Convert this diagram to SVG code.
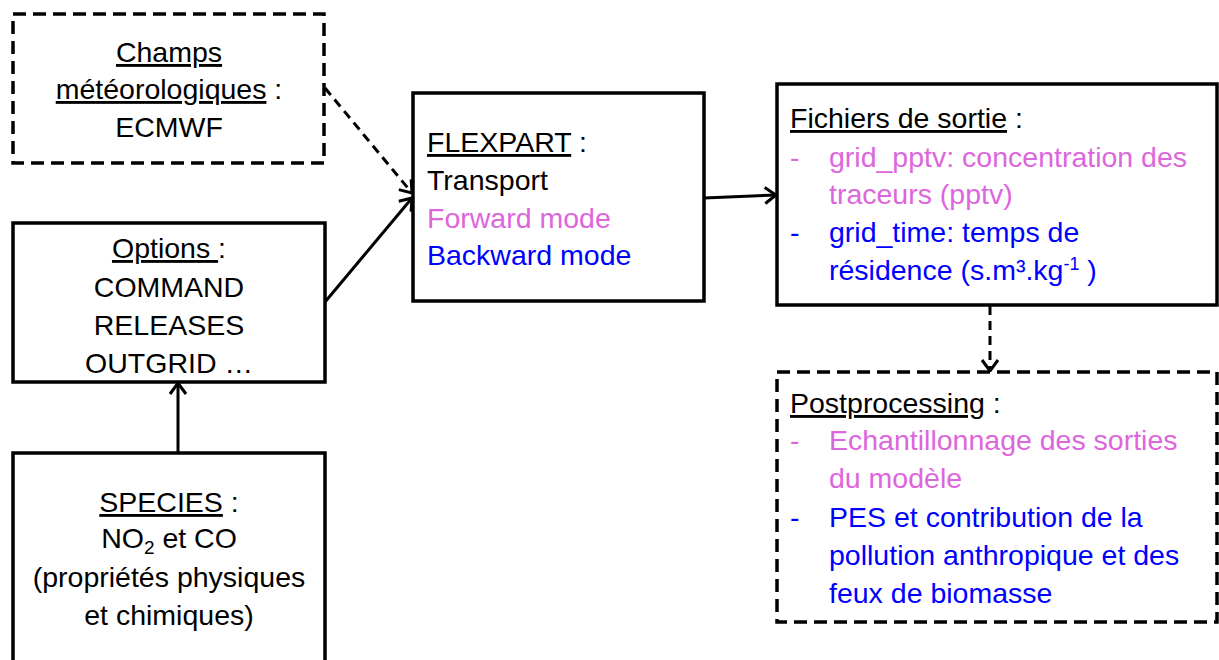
<svg xmlns="http://www.w3.org/2000/svg" width="1219" height="660" viewBox="0 0 1219 660">
<style>
  .box { fill: #fff; stroke: #000; stroke-width: 3.5; }
  .dashed { stroke-dasharray: 13 7; }
  text { font-family: "Liberation Sans", Arial, sans-serif; font-size: 28.5px; fill: #000; }
  .c { text-anchor: middle; }
  .u { text-decoration: underline; }
  .pink { fill: #DD66DD; }
  .blue { fill: #0000FF; }
  .conn { stroke: #000; stroke-width: 3; fill: none; }
  .cdash { stroke-dasharray: 9 6; }
</style>
<defs>
  <marker id="arr" markerUnits="userSpaceOnUse" markerWidth="18" markerHeight="18" refX="13" refY="9" orient="auto" overflow="visible">
    <path d="M2,1 L13,9 L2,17" fill="none" stroke="#000" stroke-width="3"/>
  </marker>
</defs>

<g id="connectors">
  <line class="conn cdash" x1="325" y1="88" x2="412" y2="193" marker-end="url(#arr)"/>
  <line class="conn" x1="325" y1="302" x2="412" y2="198" marker-end="url(#arr)"/>
  <line class="conn" x1="704" y1="198" x2="776" y2="195" marker-end="url(#arr)"/>
  <line class="conn cdash" x1="990" y1="306" x2="990" y2="371" marker-end="url(#arr)"/>
  <line class="conn" x1="178" y1="453" x2="178" y2="383" marker-end="url(#arr)"/>
</g>

<g id="champs">
  <rect class="box dashed" x="13" y="14" width="311" height="149"/>
  <text class="c" x="169" y="62"><tspan class="u">Champs</tspan></text>
  <text class="c" x="169" y="99"><tspan class="u">météorologiques</tspan> :</text>
  <text class="c" x="169" y="137">ECMWF</text>
</g>

<g id="options">
  <rect class="box" x="13" y="223" width="312" height="159"/>
  <text class="c" x="169" y="258"><tspan class="u">Options </tspan>:</text>
  <text class="c" x="169" y="297">COMMAND</text>
  <text class="c" x="169" y="335">RELEASES</text>
  <text class="c" x="169" y="373">OUTGRID …</text>
</g>

<g id="species">
  <rect class="box" x="13" y="453" width="312" height="230"/>
  <text class="c" x="169" y="512"><tspan class="u">SPECIES</tspan> :</text>
  <text class="c" x="169" y="548">NO<tspan font-size="19" dy="6">2</tspan><tspan dy="-6"> et CO</tspan></text>
  <text class="c" x="169" y="587">(propriétés physiques</text>
  <text class="c" x="169" y="625">et chimiques)</text>
</g>

<g id="flexpart">
  <rect class="box" x="413" y="93" width="291" height="208"/>
  <text x="427" y="152"><tspan class="u">FLEXPART</tspan> :</text>
  <text x="427" y="190">Transport</text>
  <text x="427" y="228" class="pink">Forward mode</text>
  <text x="427" y="265" class="blue">Backward mode</text>
</g>

<g id="fichiers">
  <rect class="box" x="777" y="84" width="440" height="221"/>
  <text x="790" y="128"><tspan class="u">Fichiers de sortie</tspan> :</text>
  <text x="790" y="167" class="pink">-</text>
  <text x="829" y="167" class="pink">grid_pptv: concentration des</text>
  <text x="829" y="204" class="pink">traceurs (pptv)</text>
  <text x="790" y="242" class="blue">-</text>
  <text x="829" y="242" class="blue">grid_time: temps de</text>
  <text x="829" y="280" class="blue">résidence (s.m³.kg<tspan font-size="18" dy="-10">-1</tspan><tspan dy="10"> )</tspan></text>
</g>

<g id="postprocessing">
  <rect class="box dashed" x="777" y="372" width="440" height="250"/>
  <text x="790" y="413"><tspan class="u">Postprocessing</tspan> :</text>
  <text x="790" y="450" class="pink">-</text>
  <text x="829" y="450" class="pink">Echantillonnage des sorties</text>
  <text x="829" y="488" class="pink">du modèle</text>
  <text x="790" y="527" class="blue">-</text>
  <text x="829" y="527" class="blue">PES et contribution de la</text>
  <text x="829" y="565" class="blue">pollution anthropique et des</text>
  <text x="829" y="603" class="blue">feux de biomasse</text>
</g>
</svg>
